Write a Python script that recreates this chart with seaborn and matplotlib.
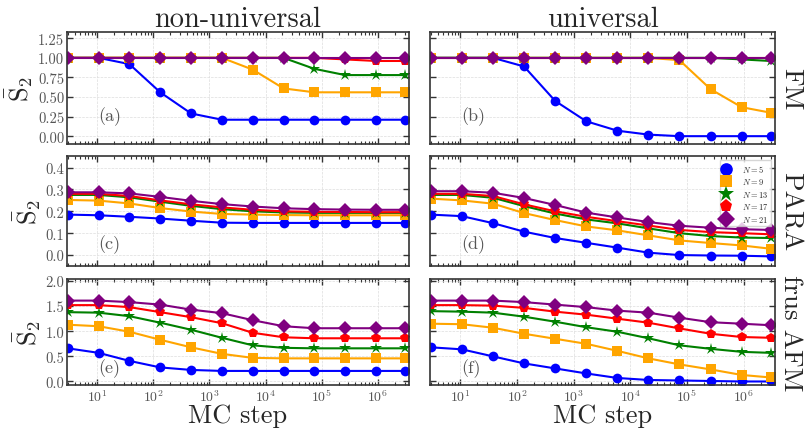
import numpy as np
import pandas as pd
import matplotlib
matplotlib.use("Agg")
import matplotlib.pyplot as plt
import seaborn as sns

# ---------------- data ----------------
mc_steps = [3, 10.6, 37.5, 133, 471, 1670, 5900, 20900, 74000, 262000, 928000, 3000000]
sizes = [5, 9, 13, 17, 21]
xtick_vals = [1e1, 1e2, 1e3, 1e4, 1e5, 1e6]

fm_nonuni = {
    5:  [1.0, 1.0, 0.92, 0.56, 0.29, 0.21, 0.21, 0.21, 0.21, 0.21, 0.21, 0.21],
    9:  [1.0, 1.0, 1.0, 1.0, 1.0, 1.0, 0.85, 0.61, 0.56, 0.56, 0.56, 0.56],
    13: [1.0, 1.0, 1.0, 1.0, 1.0, 1.0, 1.0, 1.0, 0.86, 0.78, 0.78, 0.78],
    17: [1.0, 1.0, 1.0, 1.0, 1.0, 1.0, 1.0, 1.0, 1.0, 0.98, 0.96, 0.96],
    21: [1.0, 1.0, 1.0, 1.0, 1.0, 1.0, 1.0, 1.0, 1.0, 1.0, 1.0, 1.0],
}
fm_uni = {
    5:  [1.0, 1.0, 1.0, 0.89, 0.45, 0.19, 0.07, 0.02, 0.0, 0.0, 0.0, 0.0],
    9:  [1.0, 1.0, 1.0, 1.0, 1.0, 1.0, 1.0, 1.0, 0.97, 0.60, 0.37, 0.30],
    13: [1.0, 1.0, 1.0, 1.0, 1.0, 1.0, 1.0, 1.0, 1.0, 1.0, 0.98, 0.96],
    17: [1.0, 1.0, 1.0, 1.0, 1.0, 1.0, 1.0, 1.0, 1.0, 1.0, 1.0, 1.0],
    21: [1.0, 1.0, 1.0, 1.0, 1.0, 1.0, 1.0, 1.0, 1.0, 1.0, 1.0, 1.0],
}
para_nonuni = {
    5:  [0.185, 0.182, 0.175, 0.167, 0.157, 0.148, 0.147, 0.147, 0.147, 0.147, 0.147, 0.147],
    9:  [0.252, 0.249, 0.236, 0.215, 0.199, 0.188, 0.185, 0.183, 0.182, 0.182, 0.182, 0.182],
    13: [0.275, 0.275, 0.264, 0.244, 0.225, 0.210, 0.200, 0.195, 0.193, 0.193, 0.193, 0.193],
    17: [0.280, 0.280, 0.270, 0.250, 0.232, 0.218, 0.207, 0.200, 0.198, 0.197, 0.196, 0.196],
    21: [0.287, 0.287, 0.282, 0.266, 0.248, 0.233, 0.222, 0.214, 0.210, 0.208, 0.207, 0.207],
}
para_uni = {
    5:  [0.185, 0.178, 0.146, 0.107, 0.078, 0.056, 0.034, 0.011, 0.0, -0.002, -0.003, -0.006],
    9:  [0.258, 0.250, 0.235, 0.192, 0.160, 0.131, 0.113, 0.090, 0.067, 0.055, 0.044, 0.029],
    13: [0.275, 0.275, 0.262, 0.224, 0.190, 0.163, 0.145, 0.122, 0.100, 0.087, 0.080, 0.078],
    17: [0.280, 0.280, 0.270, 0.232, 0.200, 0.175, 0.155, 0.135, 0.115, 0.105, 0.100, 0.095],
    21: [0.292, 0.292, 0.285, 0.261, 0.229, 0.194, 0.172, 0.151, 0.134, 0.125, 0.118, 0.115],
}
afm_nonuni = {
    5:  [0.66, 0.57, 0.41, 0.28, 0.23, 0.21, 0.21, 0.21, 0.21, 0.21, 0.21, 0.21],
    9:  [1.13, 1.10, 0.99, 0.83, 0.68, 0.55, 0.47, 0.46, 0.46, 0.46, 0.46, 0.46],
    13: [1.38, 1.37, 1.30, 1.17, 1.03, 0.87, 0.72, 0.67, 0.66, 0.66, 0.66, 0.66],
    17: [1.52, 1.52, 1.48, 1.38, 1.28, 1.16, 0.97, 0.88, 0.86, 0.86, 0.86, 0.86],
    21: [1.61, 1.61, 1.58, 1.53, 1.43, 1.36, 1.22, 1.10, 1.06, 1.06, 1.06, 1.06],
}
afm_uni = {
    5:  [0.68, 0.64, 0.50, 0.36, 0.26, 0.16, 0.07, 0.03, 0.02, 0.01, 0.0, 0.0],
    9:  [1.15, 1.14, 1.07, 0.95, 0.85, 0.75, 0.61, 0.46, 0.34, 0.24, 0.13, 0.08],
    13: [1.40, 1.39, 1.37, 1.29, 1.19, 1.08, 0.99, 0.86, 0.72, 0.65, 0.59, 0.57],
    17: [1.52, 1.52, 1.51, 1.465, 1.39, 1.33, 1.25, 1.17, 1.056, 0.95, 0.885, 0.87],
    21: [1.61, 1.61, 1.61, 1.58, 1.53, 1.48, 1.41, 1.37, 1.27, 1.18, 1.15, 1.12],
}

col_titles = ["non-universal", "universal"]
row_titles = ["FM", "PARA", "frus AFM"]
panel_tags = ["(a)", "(b)", "(c)", "(d)", "(e)", "(f)"]
grid_data = [[fm_nonuni, fm_uni], [para_nonuni, para_uni], [afm_nonuni, afm_uni]]

# ---------------- style ----------------
sns.set_theme(style="ticks")
plt.rcParams.update({
    "font.family": ["cmr10", "DejaVu Serif"],
    "mathtext.fontset": "cm",
    "axes.formatter.use_mathtext": True,
    "axes.unicode_minus": False,
    "axes.edgecolor": "#333333",
    "axes.linewidth": 1.2,
    "xtick.color": "#333333",
    "ytick.color": "#333333",
    "xtick.labelcolor": "#555555",
    "ytick.labelcolor": "#555555",
})

colors = {5: "blue", 9: "orange", 13: "green", 17: "red", 21: "purple"}
markers = {5: "o", 9: "s", 13: "*", 17: "p", 21: "D"}
msizes = {5: 7, 9: 7, 13: 9, 17: 7.5, 21: 7}

ylims = [(-0.1, 1.33), (-0.05, 0.453), (-0.07, 2.04)]
yticks = [[0, 0.25, 0.5, 0.75, 1.0, 1.25], [0, 0.1, 0.2, 0.3, 0.4], [0, 0.5, 1.0, 1.5, 2.0]]
yfmt = ["{:.2f}", "{:.1f}", "{:.1f}"]
tag_pos = [(0.09, 0.25), (0.09, 0.25), (0.09, 0.2), (0.09, 0.2), (0.09, 0.16), (0.09, 0.16)]

fig = plt.figure(figsize=(8.06, 4.31), dpi=100)
W, H = 806.0, 431.0
rows_px = [(33, 145), (157, 267), (280, 386)]
cols_px = [(67, 409), (430, 775)]

axes = [[None, None] for _ in range(3)]
for r in range(3):
    for c in range(2):
        x0, x1 = cols_px[c]
        t, b = rows_px[r]
        ax = fig.add_axes([x0 / W, 1 - b / H, (x1 - x0) / W, (b - t) / H])
        axes[r][c] = ax
        data = grid_data[r][c]
        for n in sizes:
            df = pd.DataFrame({"step": mc_steps, "S2": data[n]})
            sns.lineplot(data=df, x="step", y="S2", ax=ax, color=colors[n],
                         marker=markers[n], markersize=msizes[n], markeredgewidth=0,
                         linewidth=1.5, label=f"$N = {n}$", legend=False)
        ax.set_xscale("log")
        ax.set_xticks(xtick_vals)
        ax.set_xlim(2.9, 3.6e6)
        ax.set_ylim(*ylims[r])
        ax.set_yticks(yticks[r])
        ax.grid(True, which="major", linestyle="--", linewidth=0.5, color="#dddddd")
        ax.tick_params(which="both", direction="in", top=True, right=True)
        ax.tick_params(which="major", length=4, width=1.0, labelsize=10.5, pad=2)
        ax.tick_params(axis="x", which="major", labelsize=10, pad=2)
        ax.tick_params(which="minor", length=2.5, width=0.8)
        ax.set_xlabel("")
        ax.set_ylabel("")
        if c == 0:
            ax.set_yticklabels([yfmt[r].format(v) for v in yticks[r]])
            ax.set_ylabel(r"$\bar{\mathrm{S}}_2$", fontsize=19, labelpad=2)
        else:
            ax.set_yticklabels([])
        if r < 2:
            ax.set_xticklabels([])
            ax.tick_params(axis="x", which="both", labelbottom=False)
        else:
            ax.set_xlabel("MC step", fontsize=19, labelpad=-1)
        if r == 0:
            ax.set_title(col_titles[c], fontsize=20.5, pad=3)
        if c == 1:
            ax.text(1.045, 0.5, row_titles[r], transform=ax.transAxes, rotation=270,
                    ha="center", va="center", fontsize=19.5)
        tx, ty = tag_pos[2 * r + c]
        ax.text(tx, ty, panel_tags[2 * r + c], transform=ax.transAxes,
                fontsize=13, color="#555555", va="center", ha="left")

leg = axes[1][1].legend(loc="upper right", fontsize=6, frameon=True, fancybox=False,
                        edgecolor="#cccccc", handlelength=1.0, markerscale=1.3,
                        borderpad=0.3, labelspacing=0.3, handletextpad=1.4)
for h in leg.legend_handles:
    h.set_linestyle("None")

fig.savefig("out.png", dpi=100)
